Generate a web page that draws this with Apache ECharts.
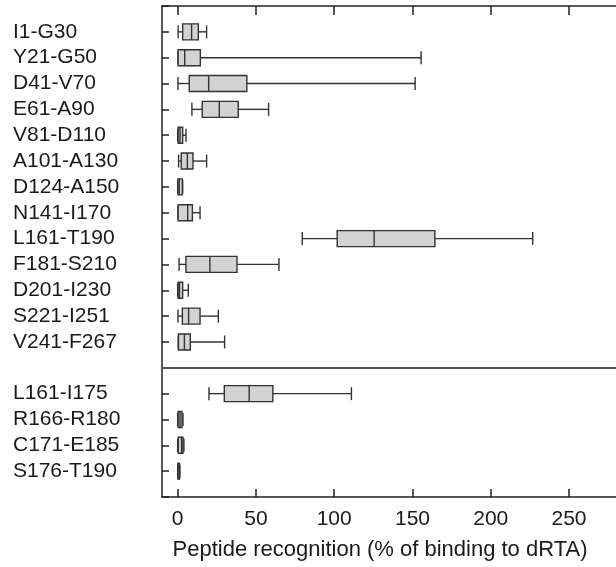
<!DOCTYPE html>
<html>
<head>
<meta charset="utf-8">
<script src="https://cdn.jsdelivr.net/npm/echarts@6/dist/echarts.min.js"></script>
<style>html,body{margin:0;padding:0;background:#fff}#c{width:616px;height:567px}</style>
</head>
<body>
<div id="c"></div>
<script>
// Peptide names (top group, then bottom group)
const categories = ['I1-G30','Y21-G50','D41-V70','E61-A90','V81-D110','A101-A130','D124-A150','N141-I170','L161-T190','F181-S210','D201-I230','S221-I251','V241-F267','L161-I175','R166-R180','C171-E185','S176-T190'];
// row position on the y axis (13 is the divider gap)
const rowPos = [0,1,2,3,4,5,6,7,8,9,10,11,12,14,15,16,17];
const mins    = [0.3, 0.2, 0.2, 9.1, 0.0, 0.6, 0.0, 0.2, 79.6, 0.9, 0.0, 0.2, 0.4, 20.0, 0.0, 0.0, 0.0];
const q1s     = [3.2, 0.3, 7.4, 15.7, 0.3, 2.3, 0.2, 0.3, 101.9, 5.3, 0.3, 3.0, 0.5, 29.8, 0.3, 0.4, 0.1];
const medians = [8.9, 4.5, 19.8, 26.6, 1.5, 6.2, 1.0, 6.4, 125.5, 20.6, 1.2, 7.0, 4.3, 45.7, 1.5, 2.5, 0.8];
const q3s     = [13.2, 14.5, 44.2, 38.7, 3.2, 9.8, 3.0, 9.4, 164.3, 37.9, 3.2, 14.3, 8.1, 60.8, 2.8, 3.4, 1.2];
const maxs    = [18.5, 155.5, 151.7, 58.1, 5.3, 18.5, 3.2, 14.3, 226.8, 64.7, 6.8, 26.0, 30.0, 111.0, 3.4, 4.0, 1.4];
const xTicks = [0, 50, 100, 150, 200, 250];
const dividerPos = 13;

const labelByPos = {};
rowPos.forEach((p, i) => { labelByPos[p] = categories[i]; });

const data = rowPos.map((p, i) => [p, mins[i], q1s[i], medians[i], q3s[i], maxs[i]]);

const stroke = '#333';
const lw = 1.4;

function renderItem(params, api) {
  const pos = api.value(0);
  const mn = api.coord([api.value(1), pos]);
  const a = api.coord([api.value(2), pos]);
  const m = api.coord([api.value(3), pos]);
  const b = api.coord([api.value(4), pos]);
  const mx = api.coord([api.value(5), pos]);
  const y = mn[1];
  const bh = 8, ch = 6.5;
  const ls = {stroke: stroke, lineWidth: lw, fill: null};
  return {
    type: 'group',
    children: [
      {type: 'line', shape: {x1: mn[0], y1: y, x2: a[0], y2: y}, style: ls},
      {type: 'line', shape: {x1: b[0], y1: y, x2: mx[0], y2: y}, style: ls},
      {type: 'line', shape: {x1: mn[0], y1: y - ch, x2: mn[0], y2: y + ch}, style: ls},
      {type: 'line', shape: {x1: mx[0], y1: y - ch, x2: mx[0], y2: y + ch}, style: ls},
      {type: 'rect', shape: {x: a[0], y: y - bh, width: b[0] - a[0], height: 2 * bh}, style: {fill: '#d3d3d3', stroke: stroke, lineWidth: lw}},
      {type: 'line', shape: {x1: m[0], y1: y - bh, x2: m[0], y2: y + bh}, style: ls}
    ]
  };
}

const font = 'Liberation Sans, Arial, Helvetica, sans-serif';
const chart = echarts.init(document.getElementById('c'), null, {renderer: 'canvas'});
chart.setOption({
  animation: false,
  grid: {left: 162, right: 0, top: 6, bottom: 70, containLabel: false},
  xAxis: [{
    type: 'value', position: 'bottom', min: -10, max: 280,
    axisLine: {show: true, onZero: false, lineStyle: {color: '#222', width: 1.5}},
    axisTick: {show: true, inside: true, length: 8, customValues: xTicks, lineStyle: {color: '#222', width: 1.5}},
    axisLabel: {show: true, customValues: xTicks, fontSize: 21, color: '#1a1a1a', fontFamily: font, margin: 12},
    splitLine: {show: false},
    name: 'Peptide recognition (% of binding to dRTA)',
    nameLocation: 'middle', nameGap: 42,
    nameTextStyle: {fontSize: 22, color: '#1a1a1a', fontFamily: font, padding: [0, 18, 0, 0]}
  }, {
    type: 'value', position: 'top', min: -10, max: 280,
    axisLine: {show: true, onZero: false, lineStyle: {color: '#222', width: 1.5}},
    axisTick: {show: true, inside: true, length: 9, customValues: xTicks, lineStyle: {color: '#222', width: 1.5}},
    axisLabel: {show: false},
    splitLine: {show: false}
  }],
  yAxis: {
    type: 'value', inverse: true, min: -1, max: 18, interval: 1,
    axisLine: {show: true, onZero: false, lineStyle: {color: '#222', width: 1.5}},
    axisTick: {show: true, inside: true, length: 7, lineStyle: {color: '#222', width: 1.5}},
    axisLabel: {
      show: true, align: 'left', margin: 149, fontSize: 21, color: '#1a1a1a', fontFamily: font,
      formatter: v => labelByPos[v] || ''
    },
    splitLine: {show: false}
  },
  series: [{
    type: 'custom',
    renderItem: renderItem,
    encode: {x: [1, 2, 3, 4, 5], y: 0},
    data: data,
    markLine: {
      silent: true, symbol: 'none', label: {show: false},
      lineStyle: {color: '#555', width: 1.8, type: 'solid'},
      data: [{yAxis: dividerPos}]
    }
  }]
});
</script>
</body>
</html>
